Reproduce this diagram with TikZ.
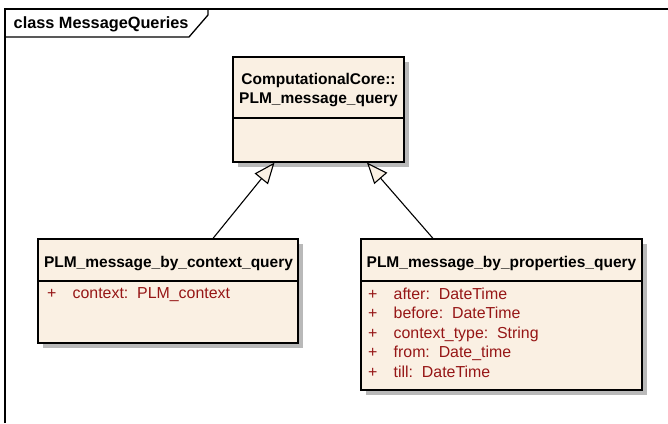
\documentclass[tikz,border=0pt]{standalone}
\usepackage{fontspec}
\setmainfont{Liberation Sans}
\usetikzlibrary{arrows.meta,shadows}
\definecolor{classfill}{RGB}{250,240,227}
\definecolor{attrred}{RGB}{150,22,22}
\definecolor{shadowgray}{RGB}{185,185,185}
\newcommand{\attrplus}{\makebox[25.5pt][l]{+}}

\begin{document}
\begin{tikzpicture}[x=1pt,y=-1pt,font=\fontsize{15.9}{18}\selectfont,
   cls/.style={draw,fill=classfill,line width=1.2pt,inner sep=0pt,
     drop shadow={shadow xshift=4.5pt,shadow yshift=-4.5pt,fill=shadowgray,opacity=1}},
   clsname/.style={font=\fontsize{15.5}{18.5}\selectfont\bfseries,inner sep=0pt},
   attr/.style={text=attrred,inner sep=0pt,anchor=base west},
   gen/.style={line width=1.1pt,
     -{Triangle[length=21pt,width=17pt,fill=classfill,line width=1.1pt]}}]
  \useasboundingbox (0,0) rectangle (668,423);
  % diagram frame
  \draw[line width=1.3pt] (5,423) -- (5,9) -- (668,9);
  \draw[line width=1.3pt] (5,37) -- (189,37) -- (208,15) -- (208,9);
  \node[clsname,font=\fontsize{16.3}{19}\selectfont\bfseries,anchor=base west]
     (frametitle) at (13.5,28) {class MessageQueries};
  % classes
  \node[cls,minimum width=171pt,minimum height=105pt] (core) at (318.5,109.5) {};
  \node[cls,minimum width=260pt,minimum height=104pt] (ctxq) at (168,291) {};
  \node[cls,minimum width=281pt,minimum height=151pt] (propq) at (501.5,314.5) {};
  % compartments
  \draw[line width=1.2pt] (core.west |- 0,118) -- (core.east |- 0,118);
  \draw[line width=1.2pt] (ctxq.west |- 0,281) -- (ctxq.east |- 0,281);
  \draw[line width=1.2pt] (propq.west |- 0,281) -- (propq.east |- 0,281);
  % class names
  \node[clsname,align=center] (corename) at (318.5,90)
     {ComputationalCore::\\PLM\_message\_query};
  \node[clsname,anchor=base] (ctxqname) at (168.5,267) {PLM\_message\_by\_context\_query};
  \node[clsname,anchor=base] (propqname) at (501.5,267) {PLM\_message\_by\_properties\_query};
  % attributes
  \node[attr] (ctxattr) at (47,298) {\attrplus context:\ \ PLM\_context};
  \node[attr] (afterattr)  at (368,299)   {\attrplus after:\ \ DateTime};
  \node[attr] (beforeattr) at (368,318.5) {\attrplus before:\ \ DateTime};
  \node[attr] (typeattr)   at (368,338)   {\attrplus context\_type:\ \ String};
  \node[attr] (fromattr)   at (368,357.5) {\attrplus from:\ \ Date\_time};
  \node[attr] (tillattr)   at (368,377)   {\attrplus till:\ \ DateTime};
  % generalisations
  \draw[gen] ([xshift=45pt]ctxq.north) -- ([xshift=-44pt]core.south);
  \draw[gen] ([xshift=-68.5pt]propq.north) -- ([xshift=48.5pt]core.south);
\end{tikzpicture}
\end{document}
